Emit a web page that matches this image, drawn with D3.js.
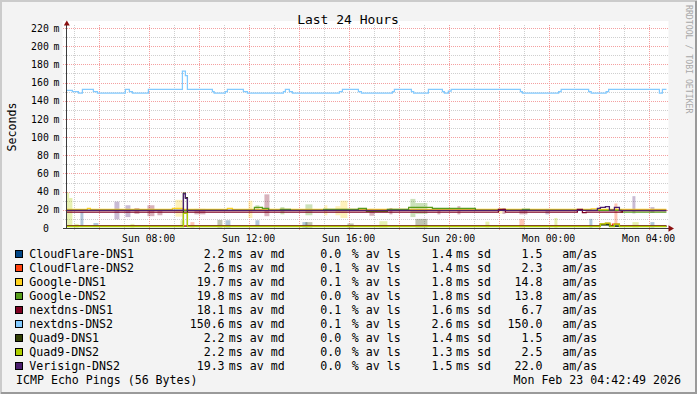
<!DOCTYPE html>
<html>
<head>
<meta charset="utf-8">
<script src="https://cdn.jsdelivr.net/npm/d3@7"></script>
<style>
  body { margin: 0; background: #fff; }
  text { font-family: "DejaVu Sans Mono", monospace; fill: #000; }
</style>
</head>
<body>
<svg id="chart" width="697" height="394"></svg>
<script>
// legend rows
const hosts = ['CloudFlare-DNS1', 'CloudFlare-DNS2', 'Google-DNS1', 'Google-DNS2', 'nextdns-DNS1',
  'nextdns-DNS2', 'Quad9-DNS1', 'Quad9-DNS2', 'Verisign-DNS2'];
const colors = ['#004586', '#ff420e', '#ffd320', '#579d1c', '#7e0021', '#83caff', '#314004', '#aecf00', '#4b1f6f'];
const avMedian = ['2.2', '2.6', '19.7', '19.8', '18.1', '150.6', '2.2', '2.2', '19.3'];
const avLoss = ['0.0', '0.1', '0.1', '0.0', '0.1', '0.1', '0.0', '0.0', '0.0'];
const avSd = ['1.4', '1.4', '1.8', '1.8', '1.6', '2.6', '1.4', '1.3', '1.5'];
const amAs = ['1.5', '2.3', '14.8', '13.8', '6.7', '150.0', '1.5', '2.5', '22.0'];

// axes
const xStart = 4.7136, xEnd = 28.7136;   // hours since Sun 00:00
const xTickHours = [8, 12, 16, 20, 24, 28];
const xTickLabels = ['Sun 08:00', 'Sun 12:00', 'Sun 16:00', 'Sun 20:00', 'Mon 00:00', 'Mon 04:00'];
const yTicks = [0, 20, 40, 60, 80, 100, 120, 140, 160, 180, 200, 220];

// median lines: [hour, ms]
const cf1Median = [[4.71, 2.0], [26.07, 3.6], [26.43, 2.0], [28.71, 2.0]];
const cf2Median = [[4.71, 2.3], [26.07, 4.2], [26.27, 5.0], [26.45, 2.3], [26.55, 4.4], [26.83, 2.3], [28.71, 2.3]];
const google1Median = [[4.71, 20.6], [5.55, 21.7], [5.67, 20.6], [8.95, 21.7], [9.39, 20.6], [11.15, 21.7],
  [11.35, 20.6], [25.7, 21.0], [25.95, 20.6], [28.71, 20.6]];
const google2Median = [[4.71, 19.4], [12.23, 22.7], [12.55, 21.7], [12.8, 19.4], [13.27, 20.6], [13.67, 19.4],
  [15.0, 20.6], [16.39, 21.7], [16.71, 18.2], [17.55, 20.6], [18.4, 22.7], [19.35, 21.7], [21.07, 19.4],
  [22.95, 20.6], [23.23, 19.4], [26.9, 17.6], [28.71, 17.6]];
const nextdns1Median = [[4.71, 17.5], [21.99, 20.6], [22.27, 17.5], [25.15, 20.6], [25.35, 16.8], [25.5, 17.5],
  [26.95, 19.0], [28.71, 19.0]];
const nextdns2Median = [[4.71, 151.5], [4.95, 150], [5.19, 148.5], [5.35, 152.5], [5.79, 150], [5.95, 148.3],
  [7.07, 152.5], [7.23, 150], [7.35, 148.3], [7.99, 152.5], [9.35, 172.5], [9.47, 167.5], [9.55, 152.5],
  [10.55, 150], [10.62, 148.3], [11.07, 150], [11.15, 152.5], [11.79, 150], [11.95, 148.3], [13.39, 150],
  [13.47, 152.5], [13.63, 150], [13.75, 148.3], [15.63, 150], [15.75, 152.5], [16.39, 150], [16.51, 148.3],
  [17.75, 150], [17.83, 152.5], [18.51, 150], [18.6, 148.3], [19.19, 152.5], [19.75, 150], [19.83, 148.3],
  [19.99, 150.5], [20.1, 152.5], [22.87, 150], [22.95, 148.3], [24.4, 150], [24.5, 152.5], [25.6, 150],
  [25.7, 148.3], [26.3, 150], [26.4, 152.5], [28.43, 148.3], [28.55, 152.5], [28.71, 152.5]];
const quad9dns1Median = [[4.71, 2.0], [9.39, 38.5], [9.47, 33.5], [9.55, 2.0], [26.07, 3.5], [26.45, 2.0], [28.71, 2.0]];
const quad9dns2Median = [[4.71, 1.6], [9.39, 16], [9.55, 1.6], [26.07, 4.5], [26.27, 5.3], [26.45, 1.6],
  [26.63, 4.3], [26.83, 1.6], [28.71, 1.6]];
const verisignMedian = [[4.71, 19.4], [9.39, 37.5], [9.47, 32.5], [9.55, 19.4], [25.95, 21.7], [26.07, 22.7],
  [26.27, 23.5], [26.43, 19.8], [26.63, 22.7], [26.83, 19.4], [28.71, 19.4]];

// smoke: [from hour, to hour, low ms, high ms]
const cf1Smoke = [[5.27, 5.39, 1, 17.5], [5.79, 5.99, 1, 5.5], [11.07, 11.27, 0.5, 8.5], [12.27, 12.43, 1, 8.5],
  [14.15, 14.35, 0.5, 6.5], [25.63, 25.75, 0.5, 10], [28.07, 28.23, 0.5, 6.5]];
const cf2Smoke = [[9.67, 9.83, 0.5, 6.5], [22.83, 23.03, 0.5, 10], [26.63, 26.75, 2, 27]];
const google1Smoke = [[9.07, 9.35, 12.5, 31], [11.99, 12.15, 11, 30], [15.03, 15.15, 14, 25], [15.47, 15.67, 14, 24],
  [15.67, 15.95, 11, 30], [22.0, 22.15, 16, 22]];
const google2Smoke = [[12.27, 12.43, 19, 25], [13.27, 13.43, 15, 23], [14.27, 14.55, 14, 26], [18.47, 18.67, 12, 32],
  [18.67, 19.15, 15.5, 27.5]];
const nextdns1Smoke = [[7.43, 7.63, 15.5, 22], [7.95, 8.23, 13, 25], [8.35, 8.55, 14, 20], [9.83, 10.27, 15, 21],
  [12.63, 12.83, 13, 37], [16.83, 17.03, 13.5, 21], [17.63, 17.75, 15, 22], [19.55, 19.67, 15, 21],
  [20.35, 20.47, 15, 24], [22.15, 22.27, 15.5, 22], [22.83, 23.15, 15, 20]];
const quad9dns1Smoke = [[10.75, 10.95, 0.5, 8.8], [14.27, 14.55, 0.5, 6.5], [15.95, 16.2, 0.5, 5], [18.67, 19.15, 0.5, 10]];
const quad9dns2Smoke = [[4.71, 4.82, 3, 39], [4.82, 4.95, 3, 33], [5.02, 5.2, 0.5, 4.5], [7.27, 7.43, 0.5, 4.5],
  [9.27, 9.43, 0.5, 8.5], [17.23, 17.55, 0.5, 7.5], [21.47, 21.63, 0.5, 7], [24.23, 24.35, 0.3, 11], [27.35, 27.6, 0.5, 6.5]];
const verisignSmoke = [[6.63, 6.83, 9.5, 29], [7.07, 7.27, 12, 25], [23.87, 24.03, 15, 21], [27.35, 27.47, 16, 35],
  [28.07, 28.23, 16.5, 23]];

const medians = [cf1Median, cf2Median, google1Median, google2Median, nextdns1Median, nextdns2Median,
  quad9dns1Median, quad9dns2Median, verisignMedian];
const smokes = [cf1Smoke, cf2Smoke, google1Smoke, google2Smoke, nextdns1Smoke, [], quad9dns1Smoke,
  quad9dns2Smoke, verisignSmoke];

const W = 697, H = 394;
const plotLeft = 66.5, plotRight = 666.5, plotTop = 28, plotBottom = 228;

const svg = d3.select('#chart');
const x = d3.scaleLinear().domain([xStart, xEnd]).range([plotLeft, plotRight]);
const y = d3.scaleLinear().domain([0, 220]).range([plotBottom, plotTop]);

// background + border
svg.append('rect').attr('width', W).attr('height', H).attr('fill', '#f3f3f3');
svg.append('path').attr('d', `M1,${H} V1 H${W}`).attr('stroke', '#cbcbcb').attr('stroke-width', 2).attr('fill', 'none');
svg.append('path').attr('d', `M1,${H - 1} H${W - 1} V1`).attr('stroke', '#9a9a9a').attr('stroke-width', 2).attr('fill', 'none');

// canvas
svg.append('rect').attr('x', 62.5).attr('y', 21).attr('width', 606).attr('height', 209).attr('fill', '#fff');

// grid
const grid = svg.append('g').attr('stroke-dasharray', '1,1').attr('stroke-width', 1).attr('fill', 'none');
const minorY = d3.range(10, 221, 20);
const minorX = d3.range(5, 29, 2);
const majorX = d3.range(6, 29, 2);
grid.selectAll('.hmin').data(minorY).enter().append('line')
  .attr('x1', 63).attr('x2', 669).attr('y1', d => Math.round(y(d)) + 0.5).attr('y2', d => Math.round(y(d)) + 0.5)
  .attr('stroke', '#cfcfcf');
grid.selectAll('.vmin').data(minorX).enter().append('line')
  .attr('y1', 25).attr('y2', 231).attr('x1', d => Math.round(x(d)) + 0.5).attr('x2', d => Math.round(x(d)) + 0.5)
  .attr('stroke', '#cfcfcf');
grid.selectAll('.hmaj').data(yTicks.slice(1)).enter().append('line')
  .attr('x1', 63).attr('x2', 669).attr('y1', d => Math.round(y(d)) + 0.5).attr('y2', d => Math.round(y(d)) + 0.5)
  .attr('stroke', '#f4a0a0');
grid.selectAll('.vmaj').data(majorX).enter().append('line')
  .attr('y1', 25).attr('y2', 231).attr('x1', d => Math.round(x(d)) + 0.5).attr('x2', d => Math.round(x(d)) + 0.5)
  .attr('stroke', '#f4a0a0');

// smoke
smokes.forEach((s, i) => {
  svg.append('g').selectAll('rect').data(s).enter().append('rect')
    .attr('x', d => x(d[0]))
    .attr('width', d => x(d[1]) - x(d[0]))
    .attr('y', d => y(d[3]))
    .attr('height', d => y(d[2]) - y(d[3]))
    .attr('fill', colors[i])
    .attr('fill-opacity', 0.3);
});

// median lines
const line = d3.line().x(d => x(d[0])).y(d => y(d[1])).curve(d3.curveStepAfter);
medians.forEach((m, i) => {
  svg.append('path').datum(m)
    .attr('d', line)
    .attr('fill', 'none')
    .attr('stroke', colors[i])
    .attr('stroke-width', 1.25);
});

// axes
svg.append('line').attr('x1', 66.5).attr('x2', 66.5).attr('y1', 229).attr('y2', 24).attr('stroke', '#3c3c3c');
svg.append('line').attr('x1', 63).attr('x2', 669).attr('y1', 228.5).attr('y2', 228.5).attr('stroke', '#3c3c3c');
svg.append('path').attr('d', 'M66.8,20.5 L63.8,25.5 L69.8,25.5 Z').attr('fill', '#8b1010');
svg.append('path').attr('d', 'M674,228.5 L668.5,225.3 L668.5,231.7 Z').attr('fill', '#8b1010');

// y labels
const yl = svg.append('g').style('font-size', '9.8px');
yl.selectAll('.num').data(yTicks).enter().append('text')
  .attr('x', 48.8).attr('y', d => y(d) + 3.6).attr('text-anchor', 'end').text(d => d);
yl.selectAll('.unit').data(yTicks.filter(d => d > 0)).enter().append('text')
  .attr('x', 53.6).attr('y', d => y(d) + 3.6).text('m');

// x labels
svg.append('g').style('font-size', '9.8px').selectAll('text').data(xTickHours).enter().append('text')
  .attr('x', d => x(d)).attr('y', 241.5).attr('text-anchor', 'middle').text((d, i) => xTickLabels[i]);

// title, unit, watermark
svg.append('text').attr('x', 348).attr('y', 23.5).attr('text-anchor', 'middle').style('font-size', '13px').text('Last 24 Hours');
svg.append('text').attr('transform', 'translate(15.5,127) rotate(-90)').attr('text-anchor', 'middle')
  .style('font-size', '11.6px').text('Seconds');
svg.append('text').attr('transform', 'translate(685.5,5) rotate(90)').style('font-size', '8.2px')
  .style('fill', '#a8a8a8').text('RRDTOOL / TOBI OETIKER');

// legend
const lg = svg.append('g').style('font-size', '11.6px');
const rows = lg.selectAll('g').data(hosts).enter().append('g')
  .attr('transform', (d, i) => `translate(0,${258 + i * 14})`);
rows.append('rect').attr('x', 15.5).attr('y', -7.5).attr('width', 7).attr('height', 7)
  .attr('fill', (d, i) => colors[i]).attr('stroke', '#000');
rows.append('text').attr('x', 29.3).text(d => d);
rows.append('text').attr('x', 224.6).attr('text-anchor', 'end').text((d, i) => avMedian[i]);
rows.append('text').attr('x', 228.8).text('ms av md');
rows.append('text').attr('x', 320.3).text((d, i) => avLoss[i]);
rows.append('text').attr('x', 351.8).text('% av ls');
rows.append('text').attr('x', 452.4).attr('text-anchor', 'end').text((d, i) => avSd[i]);
rows.append('text').attr('x', 456).text('ms sd');
rows.append('text').attr('x', 542.4).attr('text-anchor', 'end').text((d, i) => amAs[i]);
rows.append('text').attr('x', 562.3).text('am/as');

lg.append('text').attr('x', 16).attr('y', 384).text('ICMP Echo Pings (56 Bytes)');
lg.append('text').attr('x', 681).attr('y', 384).attr('text-anchor', 'end').text('Mon Feb 23 04:42:49 2026');
</script>
</body>
</html>
